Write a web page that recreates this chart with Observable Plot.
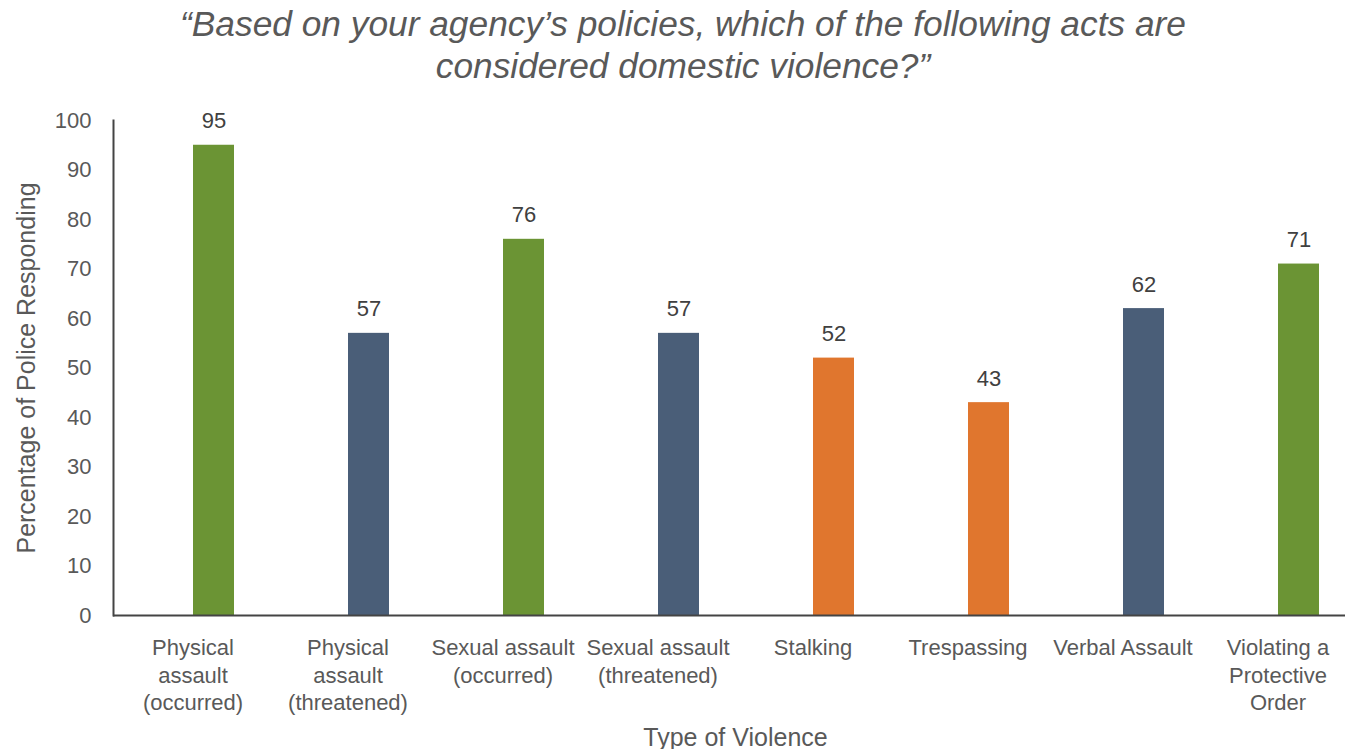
<!DOCTYPE html>
<html><head><meta charset="utf-8">
<script src="https://cdn.jsdelivr.net/npm/d3@7"></script>
<script src="https://cdn.jsdelivr.net/npm/@observablehq/plot@0.6"></script>
<style>
body{margin:0;background:#fff;font-family:"Liberation Sans",Arial,sans-serif;}
#title{box-sizing:border-box;width:1345px;padding-left:21px;height:95px;padding-top:3px;text-align:center;font-style:italic;font-size:35.3px;line-height:42px;color:#595959;white-space:nowrap;}
#chart svg{display:block;}
</style></head><body>
<div id="title">“Based on your agency’s policies, which of the following acts are<br>considered domestic violence?”</div>
<div id="chart"></div>
<script>
const categories = ["Physical assault (occurred)","Physical assault (threatened)","Sexual assault (occurred)","Sexual assault (threatened)","Stalking","Trespassing","Verbal Assault","Violating a Protective Order"];
const tickLabels = ["Physical\nassault\n(occurred)","Physical\nassault\n(threatened)","Sexual assault\n(occurred)","Sexual assault\n(threatened)","Stalking","Trespassing","Verbal Assault","Violating a\nProtective\nOrder"];
const values = [95,57,76,57,52,43,62,71];
const groups = ["occurred","threatened","occurred","threatened","other","other","threatened","occurred"];
const yTicks = [0,10,20,30,40,50,60,70,80,90,100];
const xTitle = "Type of Violence";
const yTitle = "Percentage of Police Responding";
const data = categories.map((c,i)=>({category:c, value:values[i], group:groups[i]}));

const plot = Plot.plot({
  width:1345, height:654, marginTop:25, marginBottom:134, marginLeft:113, marginRight:0,
  style:{fontFamily:"'Liberation Sans', Arial, sans-serif", fontSize:"22px", color:"#595959", background:"#fff", overflow:"visible"},
  x:{domain:categories, range:[113,1356.2], paddingInner:0.736, paddingOuter:0.368, align:0.5},
  y:{domain:[0,100]},
  color:{domain:["occurred","threatened","other"], range:["#6B9434","#4A5E78","#E0762E"]},
  marks:[
    Plot.barY(data,{x:"category", y:"value", fill:"group", dx:21}),
    Plot.text(data,{x:"category", y:"value", text:d=>String(d.value), dx:21, dy:-24, fill:"#404040"}),
    Plot.axisY({ticks:yTicks, tickSize:0, tickPadding:22, label:null}),
    Plot.axisX({tickSize:0, tickPadding:20, tickFormat:d=>tickLabels[categories.indexOf(d)], lineHeight:1.25, label:null}),
    Plot.text([yTitle], {frameAnchor:"left", rotate:-90, textAnchor:"middle", lineAnchor:"top", dx:-96, fontSize:25, fill:"#595959"}),
    Plot.text([xTitle], {frameAnchor:"bottom", lineAnchor:"middle", dx:6, dy:122, fontSize:25, fill:"#595959"}),
    Plot.frame({anchor:"left", stroke:"#444", strokeWidth:2}),
    Plot.ruleY([0], {stroke:"#444", strokeWidth:2})
  ]
});
document.getElementById("chart").appendChild(plot);
</script>
</body></html>
